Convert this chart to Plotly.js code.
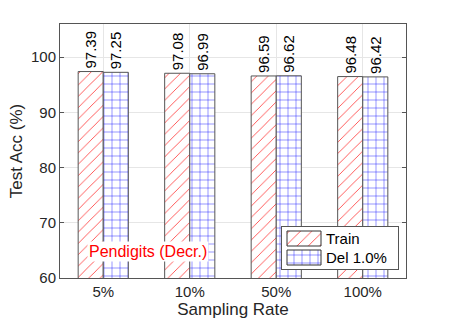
<!DOCTYPE html>
<html>
<head>
<meta charset="utf-8">
<script src="https://cdn.plot.ly/plotly-3.0.1.min.js"></script>
<style>
  html, body { margin: 0; padding: 0; background: #fff; }
  #chart { width: 449px; height: 326px; }
</style>
</head>
<body>
<div id="chart"></div>
<script>
// sampling rates on the x axis
var rates = ["5%", "10%", "50%", "100%"];
var trainAcc = [97.39, 97.08, 96.59, 96.48];
var delAcc = [97.25, 96.99, 96.62, 96.42];
var yTicks = [60, 70, 80, 90, 100];
var seriesNames = ["Train", "Del 1.0%"];

var fontFam = "Liberation Sans, Arial, sans-serif";
var trainPattern = { shape: "/", fgcolor: "red", bgcolor: "white", size: 8, solidity: 0.08 };
var delPattern = { shape: "+", fgcolor: "blue", bgcolor: "white", size: 8, solidity: 0.1 };
var barW = 0.29;

function fmt(v) { return v.toFixed(2); }

var traces = [
  {
    type: "bar",
    x: rates,
    y: trainAcc,
    name: seriesNames[0],
    width: barW,
    offset: -barW,
    text: trainAcc.map(fmt),
    textposition: "outside",
    textangle: -90,
    constraintext: "none",
    cliponaxis: false,
    textfont: { family: fontFam, size: 15, color: "#000" },
    marker: { color: "white", line: { color: "#555", width: 1 }, pattern: trainPattern }
  },
  {
    type: "bar",
    x: rates,
    y: delAcc,
    name: seriesNames[1],
    width: barW,
    offset: 0,
    text: delAcc.map(fmt),
    textposition: "outside",
    textangle: -90,
    constraintext: "none",
    cliponaxis: false,
    textfont: { family: fontFam, size: 15, color: "#000" },
    marker: { color: "white", line: { color: "#555", width: 1 }, pattern: delPattern }
  },
  // legend box (drawn in its own little subplot, units = pixels)
  {
    type: "bar", orientation: "h", xaxis: "x2", yaxis: "y2",
    x: [116], y: [21], base: 0, width: 42,
    marker: { color: "white", line: { width: 0 } },
    hoverinfo: "skip"
  },
  {
    type: "bar", orientation: "h", xaxis: "x2", yaxis: "y2",
    x: [34], y: [11.5], base: 5, width: 15,
    marker: { color: "white", line: { color: "#333", width: 1 }, pattern: trainPattern }
  },
  {
    type: "bar", orientation: "h", xaxis: "x2", yaxis: "y2",
    x: [34], y: [30.5], base: 5, width: 15,
    marker: { color: "white", line: { color: "#333", width: 1 }, pattern: delPattern }
  }
];

var legAxis = {
  showgrid: false, zeroline: false, showticklabels: false, ticks: "",
  showline: true, mirror: true, linecolor: "#555", linewidth: 1, fixedrange: true
};

var layout = {
  width: 449,
  height: 326,
  margin: { l: 60, r: 43, t: 24, b: 48 },
  paper_bgcolor: "white",
  plot_bgcolor: "white",
  barmode: "overlay",
  font: { family: fontFam, size: 15, color: "#262626" },
  showlegend: false,
  xaxis: {
    type: "category",
    title: { text: "Sampling Rate", font: { size: 17 }, standoff: 2 },
    range: [-0.5, 3.5],
    showgrid: true, gridcolor: "#e6e6e6",
    showline: true, linecolor: "#555", mirror: true,
    ticks: "", tickfont: { size: 15 }
  },
  yaxis: {
    title: { text: "Test Acc (%)", font: { size: 17 }, standoff: 4 },
    range: [60, 106],
    tickvals: yTicks,
    showgrid: true, gridcolor: "#e6e6e6",
    showline: true, linecolor: "#555", mirror: "ticks",
    ticks: "inside", ticklen: 4, tickcolor: "#555",
    tickfont: { size: 15 }, zeroline: false
  },
  xaxis2: Object.assign({ domain: [222 / 346, 338 / 346], range: [0, 116], anchor: "y2" }, legAxis),
  yaxis2: Object.assign({ domain: [9 / 254, 51 / 254], range: [42, 0], anchor: "x2" }, legAxis),
  annotations: [
    {
      text: "Pendigits (Decr.)",
      xref: "paper", yref: "paper",
      x: 0.255, y: 0.105, xanchor: "center", yanchor: "middle",
      showarrow: false,
      bgcolor: "white",
      font: { family: fontFam, size: 16, color: "red" }
    },
    {
      text: seriesNames[0], xref: "x2", yref: "y2", x: 42, y: 11.5,
      xanchor: "left", yanchor: "middle", showarrow: false,
      font: { family: fontFam, size: 15, color: "#000" }
    },
    {
      text: seriesNames[1], xref: "x2", yref: "y2", x: 42, y: 30.5,
      xanchor: "left", yanchor: "middle", showarrow: false,
      font: { family: fontFam, size: 15, color: "#000" }
    }
  ]
};

Plotly.newPlot("chart", traces, layout, { displayModeBar: false, staticPlot: true });
</script>
</body>
</html>
